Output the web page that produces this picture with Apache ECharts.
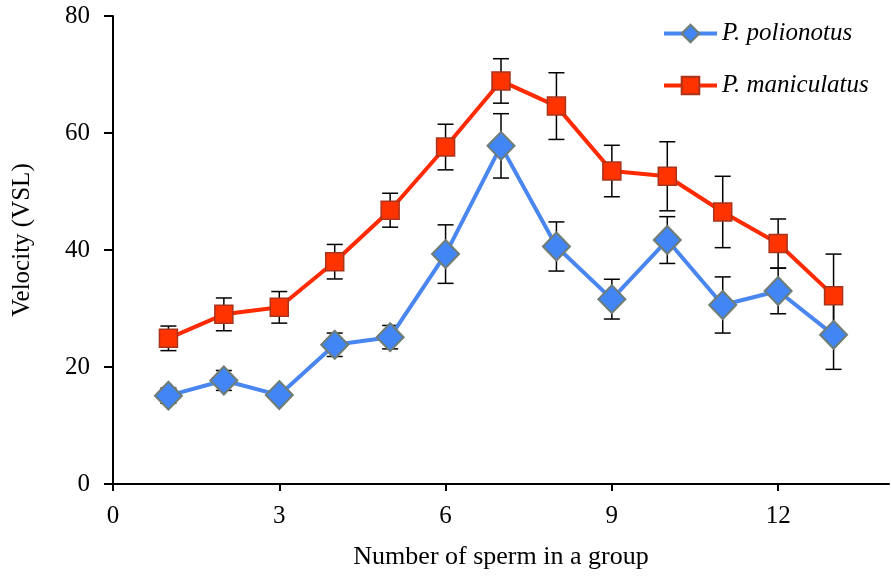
<!DOCTYPE html>
<html><head><meta charset="utf-8">
<script src="https://cdn.jsdelivr.net/npm/echarts@6/dist/echarts.min.js"></script>
<style>html,body{margin:0;padding:0;background:#fff}#c{width:891px;height:577px}</style>
</head><body><div id="c"></div>
<script>
var groupSize = [1,2,3,4,5,6,7,8,9,10,11,12,13];
var polionotus = [15.1,17.7,15.2,23.8,25.1,39.3,57.8,40.6,31.6,41.7,30.6,33.0,25.5];
var polionotusErr = [1.3,1.7,1.0,2.0,2.0,5.0,5.5,4.2,3.4,4.0,4.8,3.9,5.9];
var maniculatus = [24.9,29.0,30.2,38.0,46.8,57.6,68.9,64.6,53.5,52.6,46.5,41.1,32.2];
var maniculatusErr = [2.1,2.8,2.7,2.95,2.9,3.9,3.8,5.7,4.4,5.9,6.1,4.2,7.1];
var xTicks = [0,3,6,9,12];
var yTicks = [0,20,40,60,80];

function pts(v){ return groupSize.map(function(x,i){return [x,v[i]];}); }
function errs(v,e){ return groupSize.map(function(x,i){return [x,v[i]-e[i],v[i]+e[i]];}); }
function errRender(params, api){
  var x = api.value(0), lo = api.value(1), hi = api.value(2);
  var pLo = api.coord([x,lo]), pHi = api.coord([x,hi]);
  var w = 8;
  var st = {stroke:'#000', lineWidth:1.5};
  return {type:'group', children:[
    {type:'line', shape:{x1:pLo[0],y1:pLo[1],x2:pHi[0],y2:pHi[1]}, style:st},
    {type:'line', shape:{x1:pLo[0]-w,y1:pLo[1],x2:pLo[0]+w,y2:pLo[1]}, style:st},
    {type:'line', shape:{x1:pHi[0]-w,y1:pHi[1],x2:pHi[0]+w,y2:pHi[1]}, style:st}
  ]};
}
var font = '"Liberation Serif","Times New Roman",serif';
var chart = echarts.init(document.getElementById('c'));
chart.setOption({
  animation:false,
  grid:{left:113,right:2,top:16,bottom:93},
  legend:{
    orient:'vertical', left:657, top:16, itemGap:27, itemWidth:53, itemHeight:22,
    textStyle:{fontFamily:font, fontStyle:'italic', fontSize:25, color:'#000'},
    data:[
      {name:'P. polionotus', lineStyle:{width:4, color:'#4a86f0'}},
      {name:'P. maniculatus', lineStyle:{width:4, color:'#ff2a00'}}
    ]
  },
  xAxis:{
    type:'value', min:0, max:14,
    name:'Number of sperm in a group', nameLocation:'middle', nameGap:60,
    nameTextStyle:{fontFamily:font, fontSize:26, color:'#000'},
    axisLine:{lineStyle:{color:'#000', width:2}},
    axisTick:{show:true, length:7, lineStyle:{color:'#000', width:2}, customValues:xTicks},
    axisLabel:{fontFamily:font, fontSize:25, color:'#000', margin:20, customValues:xTicks},
    splitLine:{show:false}
  },
  yAxis:{
    type:'value', min:0, max:80, interval:20,
    name:'Velocity (VSL)', nameLocation:'middle', nameGap:78, nameRotate:90,
    nameTextStyle:{fontFamily:font, fontSize:25, color:'#000', padding:[0,0,0,20]},
    axisLine:{show:true, lineStyle:{color:'#000', width:2}},
    axisTick:{show:true, length:9, lineStyle:{color:'#000', width:2}, customValues:yTicks},
    axisLabel:{fontFamily:font, fontSize:25, color:'#000', margin:23, customValues:yTicks},
    splitLine:{show:false}
  },
  series:[
    {type:'custom', name:'errP', renderItem:errRender, data:errs(polionotus,polionotusErr), z:1, silent:true},
    {type:'custom', name:'errM', renderItem:errRender, data:errs(maniculatus,maniculatusErr), z:1, silent:true},
    {type:'line', name:'P. maniculatus', data:pts(maniculatus), z:3,
      symbol:'rect', symbolSize:18,
      lineStyle:{color:'#ff2a00', width:4},
      itemStyle:{color:'#ff3300', borderColor:'#a8341c', borderWidth:1.5}},
    {type:'line', name:'P. polionotus', data:pts(polionotus), z:4,
      symbol:'diamond', symbolSize:[27,28],
      lineStyle:{color:'#4a86f0', width:4},
      itemStyle:{color:'#4285f4', borderColor:'#6f7d74', borderWidth:2}}
  ]
});
</script></body></html>
